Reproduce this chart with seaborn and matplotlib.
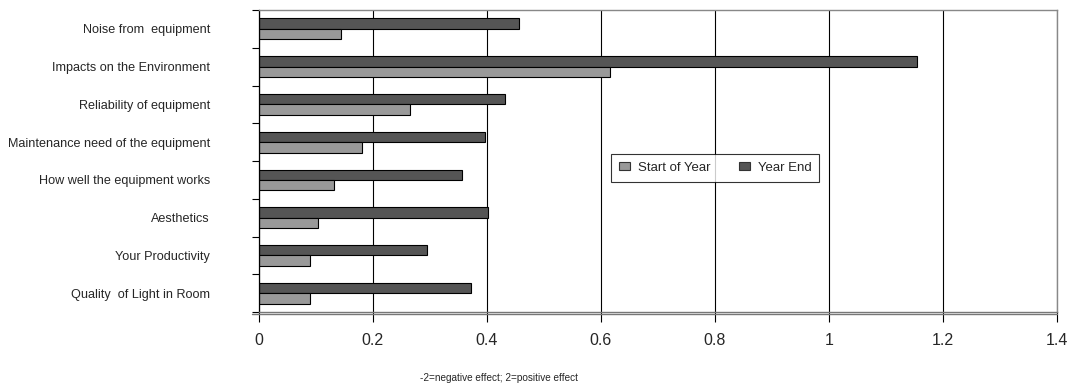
import matplotlib
matplotlib.use("Agg")
import matplotlib.pyplot as plt
from matplotlib.patches import Patch
from matplotlib.lines import Line2D
import seaborn as sns
import pandas as pd

categories = [
    "Noise from  equipment",
    "Impacts on the Environment",
    "Reliability of equipment",
    "Maintenance need of the equipment",
    "How well the equipment works",
    "Aesthetics",
    "Your Productivity",
    "Quality  of Light in Room",
]
start_of_year = [0.145, 0.617, 0.265, 0.181, 0.133, 0.104, 0.091, 0.091]
year_end = [0.456, 1.155, 0.432, 0.397, 0.356, 0.402, 0.296, 0.373]
series_names = ["Start of Year", "Year End"]
xticks = [0, 0.2, 0.4, 0.6, 0.8, 1.0, 1.2, 1.4]
xtick_labels = ["0", "0.2", "0.4", "0.6", "0.8", "1", "1.2", "1.4"]
x_label = "-2=negative effect; 2=positive effect"

colors = {"Start of Year": "#999999", "Year End": "#555555"}

df = pd.DataFrame({
    "category": categories * 2,
    "value": start_of_year + year_end,
    "series": ["Start of Year"] * len(categories) + ["Year End"] * len(categories),
})

sns.set_theme(style="white")
plt.rcParams["font.family"] = ["Liberation Sans", "DejaVu Sans"]

fig = plt.figure(figsize=(10.71, 3.92), dpi=100)
ax = fig.add_axes([0.2414, 0.204, 0.7456, 0.7705])

sns.barplot(data=df, y="category", x="value", hue="series",
            hue_order=["Year End", "Start of Year"], order=categories,
            palette=colors, orient="h", width=0.55, dodge=True,
            edgecolor="black", linewidth=0.8, saturation=1, ax=ax,
            legend=False, errorbar=None)

ax.set_xlim(0, 1.4)
ax.set_ylim(len(categories) - 0.5, -0.5)
ax.set_xticks(xticks)
ax.set_xticklabels(xtick_labels, fontsize=11.5)
ax.set_xlabel("")
ax.set_ylabel("")
ax.xaxis.grid(True, color="black", linewidth=0.8)
ax.yaxis.grid(False)
ax.set_axisbelow(True)

ax.set_yticks(range(len(categories)))
ax.set_yticklabels(categories, fontsize=9.1)
ax.set_yticks([i - 0.5 for i in range(len(categories) + 1)], minor=True)
ax.tick_params(axis="y", which="major", length=0, pad=35)
ax.tick_params(axis="y", which="minor", length=5, width=0.8, color="black", direction="out", left=True)
ax.tick_params(axis="x", which="major", length=7, width=0.8, color="black", direction="out", bottom=True, pad=8)

for side in ["top", "right"]:
    ax.spines[side].set_visible(True)
    ax.spines[side].set_color("#888888")
    ax.spines[side].set_linewidth(1.0)
ax.spines["left"].set_color("black")
ax.spines["left"].set_linewidth(0.9)
ax.spines["bottom"].set_color("#777777")
ax.spines["bottom"].set_linewidth(1.0)
ax.add_line(Line2D([-0.008, 1.0], [-0.008, -0.008], transform=ax.transAxes,
                   color="#777777", linewidth=1.0, clip_on=False))

handles = [Patch(facecolor=colors[s], edgecolor="#333333", linewidth=0.8) for s in series_names]
leg = ax.legend(handles, series_names, loc="center", bbox_to_anchor=(0.572, 0.477),
                ncol=2, fontsize=9.5, frameon=True, fancybox=False, edgecolor="black",
                handlelength=0.8, handleheight=0.6, columnspacing=2.2, handletextpad=0.6,
                borderpad=0.6)
leg.get_frame().set_linewidth(0.8)

fig.text(0.466, 0.036, x_label, fontsize=7.2, ha="center", va="center")

fig.savefig("out.png", dpi=100)
